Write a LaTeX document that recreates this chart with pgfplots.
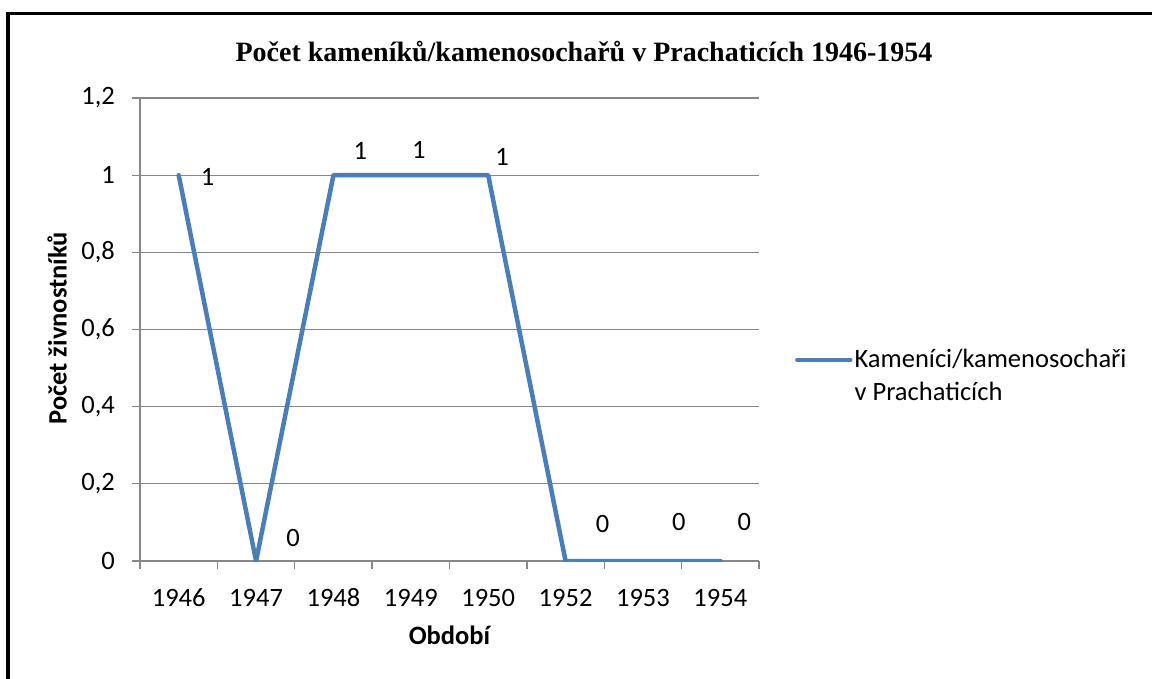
\documentclass[border=0pt]{standalone}
\usepackage{fontspec}
\setmainfont{Carlito}[Numbers=Lining]
\newfontfamily\titlefont{Liberation Serif}
\usepackage{pgfplots}
\usepackage{pgfplotstable}
\pgfplotsset{compat=1.18}
\definecolor{lineblue}{HTML}{4A7EBB}
\definecolor{gridgray}{HTML}{878787}

\pgfplotstableread{
x y dx dy lab
0 1 29 -2 1
1 0 37 23 0
2 1 27 24 1
3 1 8 25 1
4 1 14 18 1
5 0 37 37 0
6 0 36 39 0
7 0 24 39 0
}\datatable

\begin{document}
\begin{tikzpicture}[x=1pt,y=1pt]
\useasboundingbox (0,0) rectangle (1152,678);
\draw[line width=3.5pt] (8,-5) -- (8,664.5) -- (1160,664.5);
\node[font=\titlefont\bfseries\fontsize{28}{33}\selectfont] at (584,626) {Počet kameníků/kamenosochařů v Prachaticích 1946-1954};
\begin{axis}[
 at={(140pt,117pt)}, anchor=south west,
 scale only axis, width=619pt, height=463pt,
 xmin=-0.5, xmax=7.5, ymin=0, ymax=1.2,
 axis lines*=left,
 xtick={0,1,2,3,4,5,6,7},
 xticklabels={1946,1947,1948,1949,1950,1952,1953,1954},
 major x tick style={draw=none},
 minor xtick={-0.5,0.5,1.5,2.5,3.5,4.5,5.5,6.5,7.5},
 ytick={0,0.2,0.4,0.6,0.8,1,1.2},
 yticklabels={0,{0,2},{0,4},{0,6},{0,8},1,{1,2}},
 tick align=outside, major tick length=8pt, minor tick length=8pt,
 ymajorgrids, grid style={gridgray, line width=1.3pt},
 axis line style={gridgray, line width=1.3pt},
 every tick/.style={gridgray, line width=1.3pt},
 ticklabel style={font=\fontsize{26.5}{31}\selectfont},
 xticklabel style={anchor=north, text height=17pt, text depth=0pt, yshift=-17pt},
 yticklabel style={anchor=east, inner sep=0pt, xshift=-17pt},
 xlabel={Období}, ylabel={Počet živnostníků},
 xlabel style={yshift=-13pt},
 ylabel style={at={(axis description cs:-0.134,0.503)}, anchor=center},
 label style={font=\bfseries\fontsize{26.5}{31}\selectfont},
 legend style={at={(1.058,0.40)}, anchor=west, draw=none, fill=none, inner sep=0pt,
   font=\fontsize{26.5}{33}\selectfont, cells={align=left, anchor=west}},
 legend image code/.code={\path[draw=none] (0pt,-16pt) -- (53pt,-16pt); \draw[#1] (0pt,16pt) -- (53pt,16pt);},
]
\addplot[lineblue, line width=4.5pt, line cap=round, line join=round] table[x=x,y=y]{\datatable};
\addlegendentry{Kameníci/kamenosochaři\\v Prachaticích}
\addplot[draw=none, mark=none, forget plot, nodes near coords, point meta=explicit symbolic,
  visualization depends on={\thisrow{dx} \as \dx},
  visualization depends on={\thisrow{dy} \as \dy},
  nodes near coords style={anchor=center, xshift=\dx pt, yshift=\dy pt, font=\fontsize{26.5}{31}\selectfont, text=black}]
  table[x=x,y=y,meta=lab]{\datatable};
\end{axis}
\end{tikzpicture}
\end{document}
